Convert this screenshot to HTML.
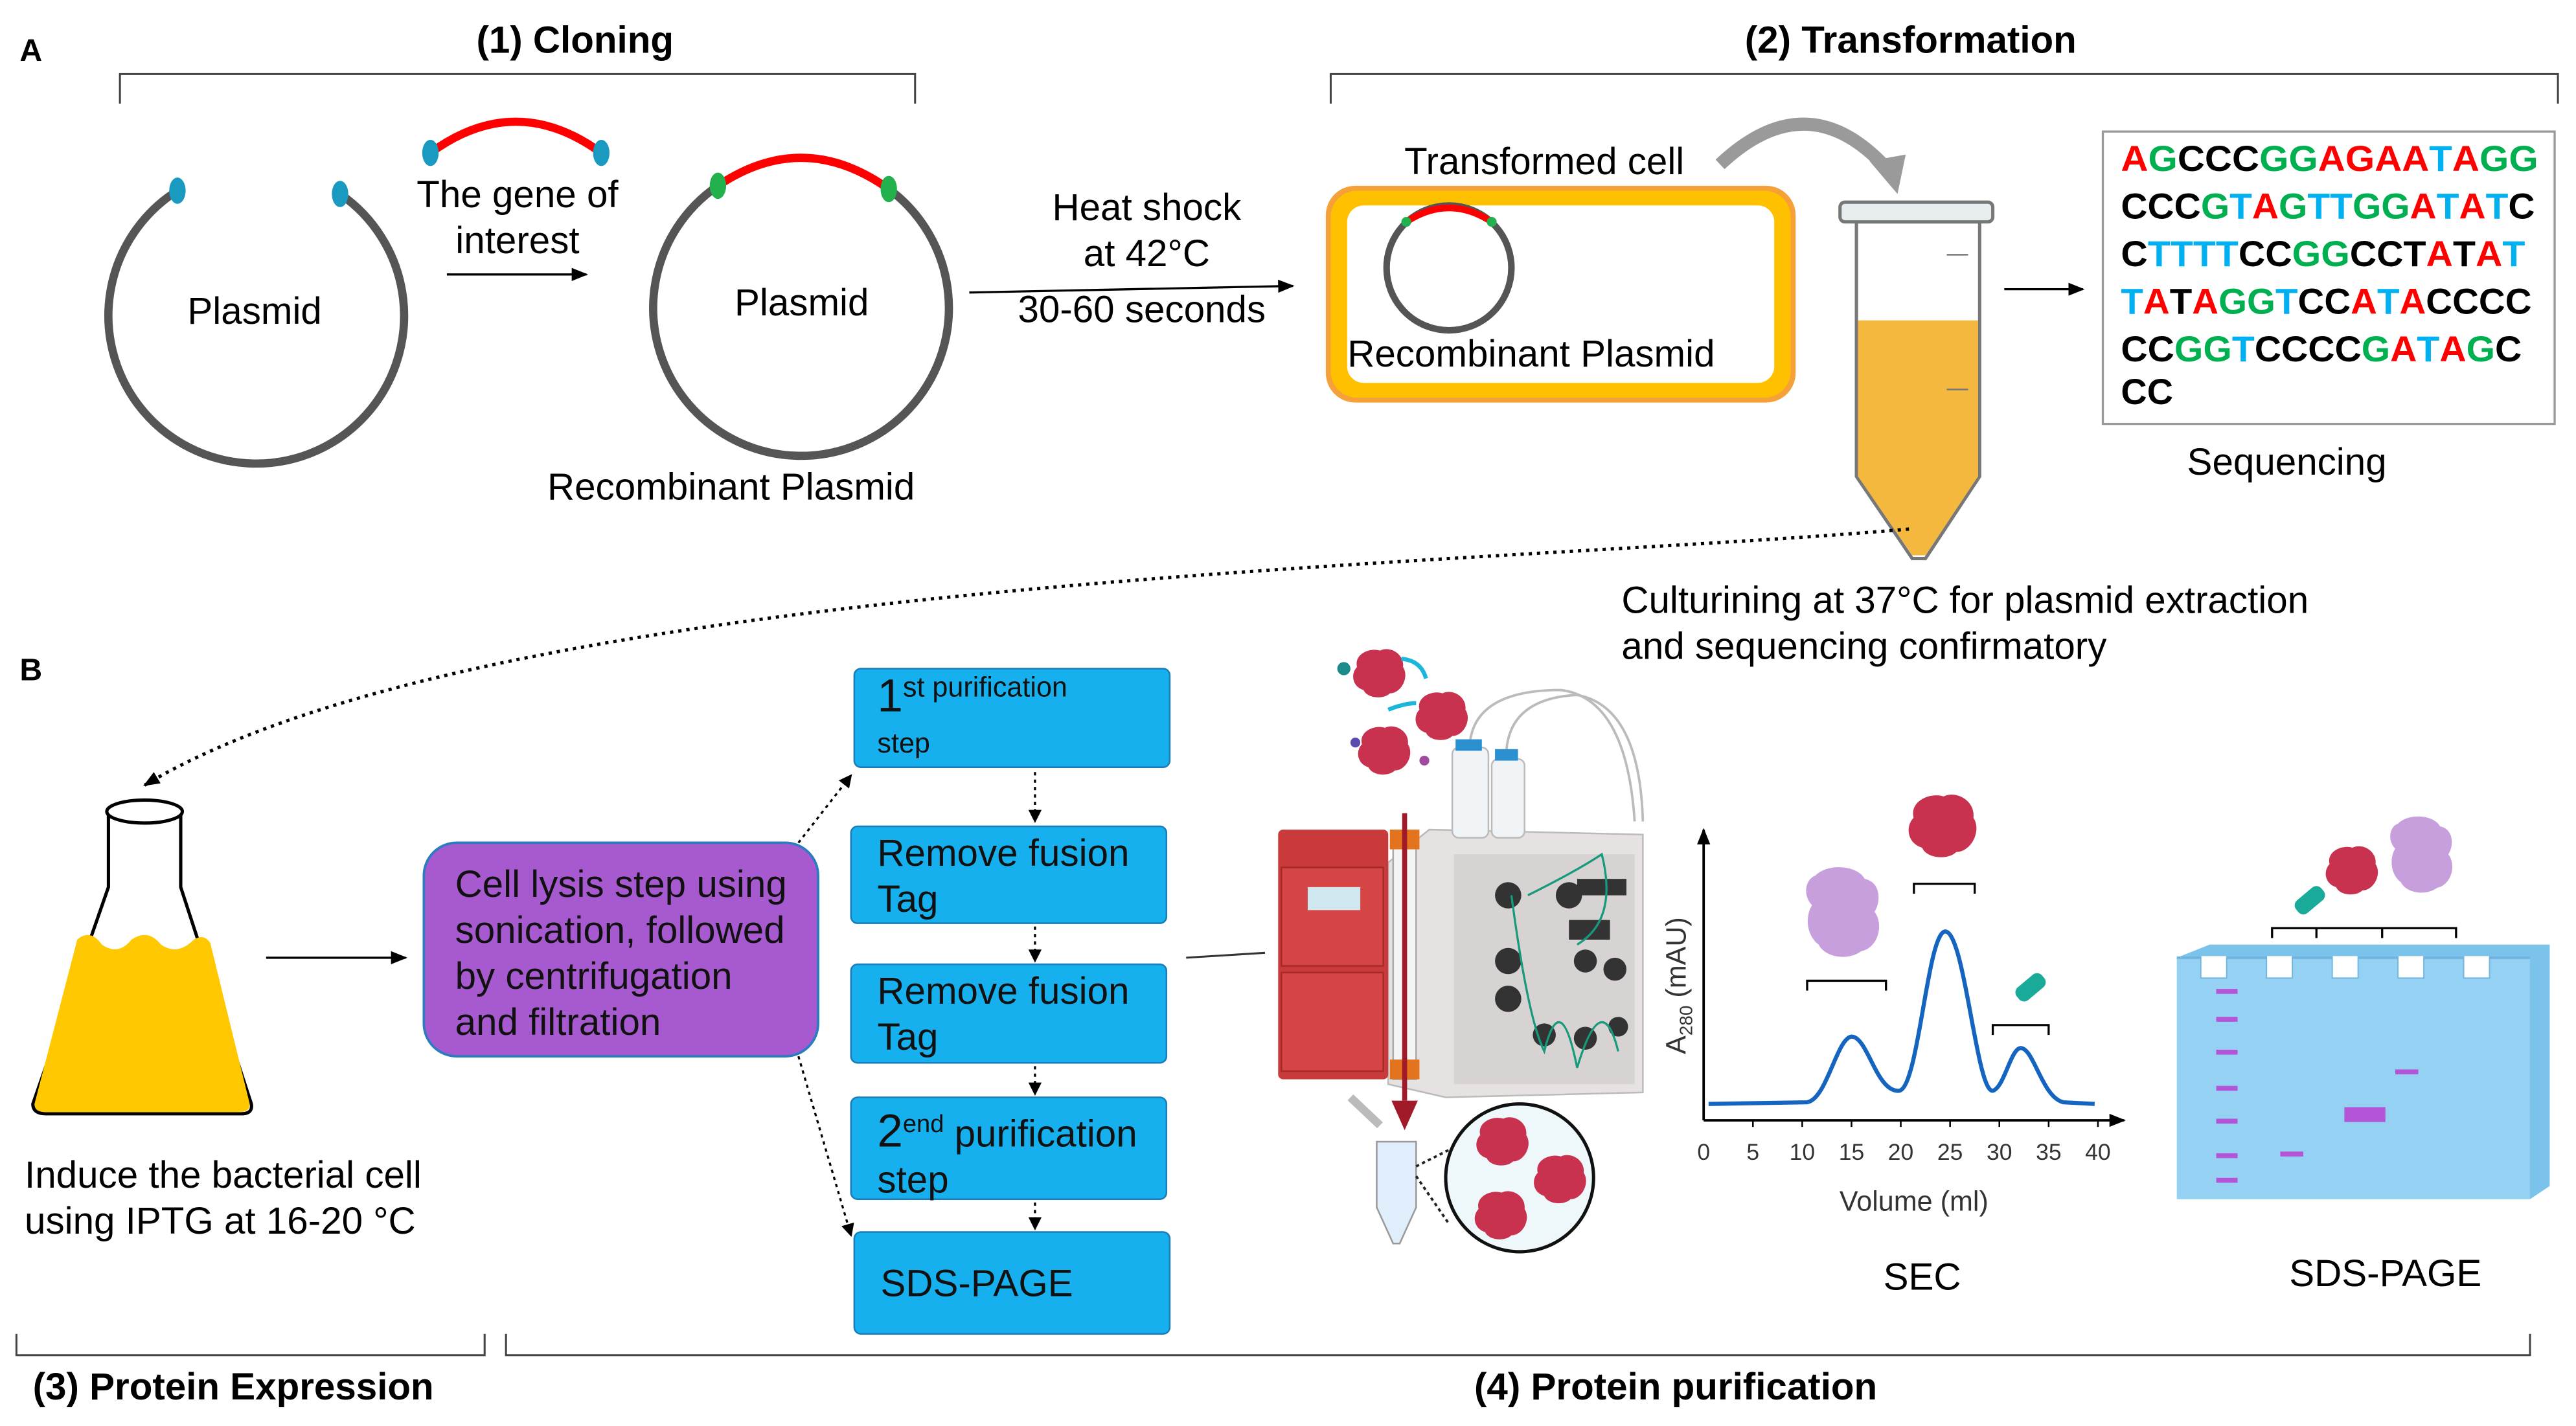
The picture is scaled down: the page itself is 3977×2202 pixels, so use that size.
<!DOCTYPE html>
<html><head><meta charset="utf-8"><style>
html,body{margin:0;padding:0;background:#fff;}
svg{display:block;}
text{font-family:"Liberation Sans",sans-serif;}
</style></head><body>
<svg width="3977" height="2202" viewBox="0 0 1568 868" xmlns="http://www.w3.org/2000/svg">
<defs>
<marker id="ah" markerWidth="10" markerHeight="10" refX="9" refY="5" orient="auto" markerUnits="userSpaceOnUse"><path d="M0,1 L10,5 L0,9 z" fill="#000"/></marker>
<marker id="ahs" markerWidth="8" markerHeight="8" refX="7" refY="4" orient="auto" markerUnits="userSpaceOnUse"><path d="M0,0 L8,4 L0,8 z" fill="#000"/></marker>
<g id="blob"><path d="M-14,-4 C-16,-12 -6,-16 0,-14 C6,-17 15,-12 14,-4 C18,2 13,12 6,12 C2,16 -8,15 -10,10 C-17,8 -18,0 -14,-4z" fill="#c8324f"/></g>
<g id="pblob"><path d="M-18,-22 C-10,-30 8,-28 12,-20 C22,-18 22,-6 18,0 C24,8 20,22 10,24 C2,30 -12,28 -16,20 C-24,14 -24,2 -20,-4 C-26,-10 -24,-20 -18,-22z" fill="#c79fdc"/></g>
</defs>
<rect width="1568" height="868" fill="#fff"/>

<text x="12" y="37" font-size="19" font-weight="bold">A</text>
<text x="12" y="414" font-size="19" font-weight="bold">B</text>

<path d="M73,63 V45 H557 V63" fill="none" stroke="#444" stroke-width="1.2"/>
<text x="350" y="32" font-size="23" font-weight="bold" text-anchor="middle">(1) Cloning</text>
<path d="M810,63 V45 H1557 V63" fill="none" stroke="#444" stroke-width="1.2"/>
<text x="1163" y="32" font-size="23" font-weight="bold" text-anchor="middle">(2) Transformation</text>

<path d="M207,118 A90,90 0 1 1 108,116" fill="none" stroke="#555" stroke-width="5"/>
<ellipse cx="108" cy="116" rx="5" ry="8" fill="#1a9ac0"/>
<ellipse cx="207" cy="118" rx="5" ry="8" fill="#1a9ac0"/>
<text x="155" y="197" font-size="23" text-anchor="middle">Plasmid</text>

<path d="M262,93 Q314,55 366,93" fill="none" stroke="#f00" stroke-width="5"/>
<ellipse cx="262" cy="93" rx="5" ry="8" fill="#1a9ac0"/>
<ellipse cx="366" cy="93" rx="5" ry="8" fill="#1a9ac0"/>
<text x="315" y="126" font-size="23" text-anchor="middle">The gene of</text>
<text x="315" y="154" font-size="23" text-anchor="middle">interest</text>
<line x1="272" y1="167" x2="357" y2="167" stroke="#000" stroke-width="1.3" marker-end="url(#ah)"/>

<path d="M541,115 A90,90 0 1 1 437,113" fill="none" stroke="#555" stroke-width="5"/>
<path d="M437,113 Q489,78 541,115" fill="none" stroke="#f00" stroke-width="5"/>
<ellipse cx="437" cy="113" rx="5" ry="8" fill="#22b14c"/>
<ellipse cx="541" cy="115" rx="5" ry="8" fill="#22b14c"/>
<text x="488" y="192" font-size="23" text-anchor="middle">Plasmid</text>
<text x="445" y="304" font-size="23" text-anchor="middle">Recombinant Plasmid</text>

<text x="698" y="134" font-size="23" text-anchor="middle">Heat shock</text>
<text x="698" y="162" font-size="23" text-anchor="middle">at  42°C</text>
<text x="695" y="196" font-size="23" text-anchor="middle">30-60 seconds</text>
<line x1="590" y1="178" x2="787" y2="174" stroke="#000" stroke-width="1.3" marker-end="url(#ah)"/>

<rect x="807" y="113" width="286" height="132" rx="18" fill="#f6a03a"/>
<rect x="810" y="116" width="280" height="126" rx="16" fill="#ffc000"/>
<rect x="820" y="125" width="260" height="108" rx="10" fill="#fff"/>
<text x="940" y="106" font-size="23" text-anchor="middle">Transformed cell</text>
<circle cx="882" cy="163" r="38" fill="none" stroke="#555" stroke-width="4"/>
<path d="M856,135 Q882,118 908,135" fill="none" stroke="#f00" stroke-width="4"/>
<circle cx="856" cy="135" r="3" fill="#22b14c"/><circle cx="908" cy="135" r="3" fill="#22b14c"/>
<text x="932" y="223" font-size="23" text-anchor="middle">Recombinant Plasmid</text>

<path d="M1047,100 Q1100,50 1148,102" fill="none" stroke="#9a9a9a" stroke-width="8"/>
<path d="M1138,98 L1160,94 L1155,118 z" fill="#9a9a9a"/>

<path d="M1130,135 H1205 V290 L1172,340 H1164 L1130,290 z" fill="#fff" stroke="#777" stroke-width="2"/>
<path d="M1131,195 H1204 V290 L1172,338 H1164 L1131,290 z" fill="#f5b83e"/>
<rect x="1120" y="123" width="93" height="12" rx="3" fill="#e8eef0" stroke="#777" stroke-width="2"/>
<line x1="1185" y1="155" x2="1198" y2="155" stroke="#777"/><line x1="1185" y1="237" x2="1198" y2="237" stroke="#777"/>
<line x1="1220" y1="176" x2="1268" y2="176" stroke="#000" stroke-width="1.3" marker-end="url(#ah)"/>

<rect x="1280" y="80" width="275" height="178" fill="#fff" stroke="#999" stroke-width="1.3"/>
<g font-size="22" font-weight="bold">
<text x="1291" y="104" textLength="254" lengthAdjust="spacingAndGlyphs"><tspan fill="#f00">A</tspan><tspan fill="#00b050">G</tspan><tspan fill="#000">CCC</tspan><tspan fill="#00b050">GG</tspan><tspan fill="#f00">AGAA</tspan><tspan fill="#00b0f0">T</tspan><tspan fill="#f00">A</tspan><tspan fill="#00b050">GG</tspan></text>
<text x="1291" y="133" textLength="252" lengthAdjust="spacingAndGlyphs"><tspan fill="#000">CCC</tspan><tspan fill="#00b050">G</tspan><tspan fill="#00b0f0">T</tspan><tspan fill="#f00">A</tspan><tspan fill="#00b050">G</tspan><tspan fill="#00b0f0">TT</tspan><tspan fill="#00b050">GG</tspan><tspan fill="#f00">A</tspan><tspan fill="#00b0f0">T</tspan><tspan fill="#f00">A</tspan><tspan fill="#00b0f0">T</tspan><tspan fill="#000">C</tspan></text>
<text x="1291" y="162" textLength="246" lengthAdjust="spacingAndGlyphs"><tspan fill="#000">C</tspan><tspan fill="#00b0f0">TTTT</tspan><tspan fill="#000">CC</tspan><tspan fill="#00b050">GG</tspan><tspan fill="#000">CCT</tspan><tspan fill="#f00">A</tspan><tspan fill="#000">T</tspan><tspan fill="#f00">A</tspan><tspan fill="#00b0f0">T</tspan></text>
<text x="1291" y="191" textLength="250" lengthAdjust="spacingAndGlyphs"><tspan fill="#00b0f0">T</tspan><tspan fill="#f00">A</tspan><tspan fill="#000">T</tspan><tspan fill="#f00">A</tspan><tspan fill="#00b050">GG</tspan><tspan fill="#00b0f0">T</tspan><tspan fill="#000">CC</tspan><tspan fill="#f00">A</tspan><tspan fill="#00b0f0">T</tspan><tspan fill="#f00">A</tspan><tspan fill="#000">CCCC</tspan></text>
<text x="1291" y="220" textLength="244" lengthAdjust="spacingAndGlyphs"><tspan fill="#000">CC</tspan><tspan fill="#00b050">GG</tspan><tspan fill="#00b0f0">T</tspan><tspan fill="#000">CCCC</tspan><tspan fill="#00b050">G</tspan><tspan fill="#f00">A</tspan><tspan fill="#00b0f0">T</tspan><tspan fill="#f00">A</tspan><tspan fill="#00b050">G</tspan><tspan fill="#000">C</tspan></text>
<text x="1291" y="246" fill="#000">CC</text>
</g>
<text x="1392" y="289" font-size="23" text-anchor="middle">Sequencing</text>

<text x="987" y="373" font-size="23">Culturining at 37°C for plasmid extraction</text>
<text x="987" y="401" font-size="23">and sequencing confirmatory</text>

<path d="M1162,322 C900,345 300,350 88,478" fill="none" stroke="#000" stroke-width="2" stroke-dasharray="2,3" marker-end="url(#ah)"/>

<path d="M66,495 V540 L20,672 Q20,678 28,678 H147 Q154,678 153,672 L110,540 V495" fill="#fff" stroke="#000" stroke-width="2"/>
<path d="M47,572 Q55,565 62,575 Q72,582 80,572 Q90,565 98,575 Q108,582 118,572 Q124,568 128,574 L152,672 Q152,677 146,677 H28 Q21,677 21,672 z" fill="#ffc800"/>
<ellipse cx="88" cy="494" rx="23" ry="7" fill="#fff" stroke="#000" stroke-width="2"/>
<text x="15" y="723" font-size="23">Induce the bacterial cell</text>
<text x="15" y="751" font-size="23">using IPTG at 16-20 °C</text>
<line x1="162" y1="583" x2="247" y2="583" stroke="#000" stroke-width="1.3" marker-end="url(#ah)"/>

<rect x="258" y="513" width="240" height="130" rx="20" fill="#a75ad0" stroke="#2b7bc0" stroke-width="1.5"/>
<g font-size="23" fill="#111">
<text x="277" y="546">Cell lysis step using</text>
<text x="277" y="574">sonication, followed</text>
<text x="277" y="602">by centrifugation</text>
<text x="277" y="630">and filtration</text>
</g>
<line x1="486" y1="513" x2="518" y2="472" stroke="#000" stroke-width="1.3" stroke-dasharray="2,2.5" marker-end="url(#ahs)"/>
<line x1="486" y1="643" x2="518" y2="752" stroke="#000" stroke-width="1.3" stroke-dasharray="2,2.5" marker-end="url(#ahs)"/>

<g fill="#17b0ee" stroke="#1a7cb8" stroke-width="1">
<rect x="520" y="407" width="192" height="60" rx="4"/>
<rect x="518" y="503" width="192" height="59" rx="4"/>
<rect x="518" y="587" width="192" height="60" rx="4"/>
<rect x="518" y="668" width="192" height="62" rx="4"/>
<rect x="520" y="750" width="192" height="62" rx="4"/>
</g>
<g font-size="23" fill="#111">
<text x="534" y="433"><tspan font-size="28">1</tspan><tspan font-size="17" dy="-9">st purification</tspan></text>
<text x="534" y="458" font-size="17">step</text>
<text x="534" y="527">Remove fusion</text>
<text x="534" y="555">Tag</text>
<text x="534" y="611">Remove fusion</text>
<text x="534" y="639">Tag</text>
<text x="534" y="698"><tspan font-size="28">2</tspan><tspan font-size="15" dy="-9">end</tspan><tspan dy="9"> purification</tspan></text>
<text x="534" y="726">step</text>
<text x="536" y="789">SDS-PAGE</text>
</g>
<g stroke="#000" stroke-width="1.3" stroke-dasharray="2,2.5" fill="none">
<line x1="630" y1="470" x2="630" y2="500" marker-end="url(#ahs)"/>
<line x1="630" y1="564" x2="630" y2="585" marker-end="url(#ahs)"/>
<line x1="630" y1="649" x2="630" y2="666" marker-end="url(#ahs)"/>
<line x1="630" y1="732" x2="630" y2="748" marker-end="url(#ahs)"/>
</g>
<line x1="722" y1="583" x2="770" y2="580" stroke="#333" stroke-width="1.2"/>

<path d="M845,525 L870,505 L1000,508 L1000,665 L880,668 L845,660 z" fill="#e7e2e2" stroke="#bbb"/>
<rect x="885" y="520" width="110" height="140" fill="#d8d3d3"/>
<rect x="778" y="505" width="67" height="152" rx="3" fill="#c93a3a"/>
<rect x="780" y="528" width="62" height="60" fill="#d64545" stroke="#a82a2a"/>
<rect x="780" y="592" width="62" height="60" fill="#d64545" stroke="#a82a2a"/>
<rect x="796" y="540" width="32" height="14" fill="#cfe8ef"/>
<rect x="848" y="507" width="14" height="150" fill="#f4f4f4" stroke="#aaa"/>
<rect x="846" y="505" width="18" height="12" fill="#e4731d"/>
<rect x="846" y="645" width="18" height="12" fill="#e4731d"/>
<rect x="884" y="455" width="22" height="55" rx="4" fill="#f1f4f6" stroke="#bbb"/>
<rect x="908" y="462" width="20" height="48" rx="4" fill="#f1f4f6" stroke="#bbb"/>
<rect x="886" y="450" width="16" height="7" fill="#2b90d0"/><rect x="910" y="456" width="14" height="7" fill="#2b90d0"/>
<path d="M895,450 Q900,420 950,420 Q990,425 995,500 M917,456 Q920,425 960,423 Q998,430 1000,500" fill="none" stroke="#bbb" stroke-width="1.5"/>
<g fill="#333">
<circle cx="918" cy="545" r="8"/><circle cx="955" cy="545" r="8"/><circle cx="918" cy="585" r="8"/><circle cx="918" cy="608" r="8"/>
<circle cx="965" cy="585" r="7"/><circle cx="983" cy="590" r="7"/><circle cx="940" cy="630" r="7"/><circle cx="965" cy="632" r="7"/><circle cx="985" cy="625" r="6"/>
<rect x="960" y="535" width="30" height="10"/><rect x="955" y="560" width="25" height="12"/>
</g>
<path d="M920,545 Q930,620 940,640 Q950,600 960,650 Q975,600 985,640 M930,545 Q960,530 975,520 Q985,560 960,575" fill="none" stroke="#179a7c" stroke-width="1.3"/>
<line x1="855" y1="495" x2="855" y2="670" stroke="#a01a2a" stroke-width="3"/>
<path d="M847,670 L863,670 L855,688 z" fill="#a01a2a"/>
<use href="#blob" x="840" y="410"/><use href="#blob" x="878" y="436"/><use href="#blob" x="843" y="457"/>
<circle cx="818" cy="407" r="4" fill="#1a8a8a"/><circle cx="825" cy="452" r="3" fill="#5a4ab0"/><circle cx="867" cy="463" r="3" fill="#a04aa0"/>
<path d="M853,401 Q865,402 868,413 M845,432 Q855,428 862,428" fill="none" stroke="#1ab6dc" stroke-width="2.5"/>
<path d="M838,695 H862 V735 L852,757 H848 L838,735 z" fill="#dfeefa" stroke="#999"/>
<path d="M822,668 L840,685" stroke="#bbb" stroke-width="5"/>
<circle cx="925" cy="717" r="45" fill="#eef8fb" stroke="#111" stroke-width="2"/>
<use href="#blob" x="915" y="695"/><use href="#blob" x="950" y="718"/><use href="#blob" x="914" y="740"/>
<path d="M862,710 L882,700 M862,716 L882,745" stroke="#222" stroke-width="1.5" stroke-dasharray="2,2"/>

<line x1="1037" y1="682" x2="1037" y2="505" stroke="#000" stroke-width="1.5" marker-end="url(#ah)"/>
<line x1="1037" y1="682" x2="1293" y2="682" stroke="#000" stroke-width="1.5" marker-end="url(#ah)"/>
<g font-size="14" text-anchor="middle" fill="#333">
<text x="1037" y="706">0</text><text x="1067" y="706">5</text><text x="1097" y="706">10</text><text x="1127" y="706">15</text><text x="1157" y="706">20</text><text x="1187" y="706">25</text><text x="1217" y="706">30</text><text x="1247" y="706">35</text><text x="1277" y="706">40</text>
</g>
<g stroke="#000"><line x1="1067" y1="682" x2="1067" y2="686"/><line x1="1097" y1="682" x2="1097" y2="686"/><line x1="1127" y1="682" x2="1127" y2="686"/><line x1="1157" y1="682" x2="1157" y2="686"/><line x1="1187" y1="682" x2="1187" y2="686"/><line x1="1217" y1="682" x2="1217" y2="686"/><line x1="1247" y1="682" x2="1247" y2="686"/><line x1="1277" y1="682" x2="1277" y2="686"/></g>
<text x="1165" y="737" font-size="17" text-anchor="middle" fill="#333">Volume (ml)</text>
<text transform="translate(1026,600) rotate(-90)" font-size="17" text-anchor="middle" fill="#333">A<tspan font-size="11" dy="4">280</tspan><tspan dy="-4"> (mAU)</tspan></text>
<path d="M1040,672 L1100,671 C1112,669 1118,632 1127,631 C1137,631 1142,665 1156,664 C1168,662 1173,568 1184,567 C1196,567 1203,665 1213,664 C1220,662 1224,638 1230,638 C1238,638 1243,668 1256,671 L1275,672" fill="none" stroke="#1565c0" stroke-width="2.5"/>
<use href="#pblob" x="1123" y="555"/>
<path d="M1100,603 V597 H1148 V603" fill="none" stroke="#000" stroke-width="1.3"/>
<use href="#blob" x="1183" y="503" transform="translate(1183,503) scale(1.3) translate(-1183,-503)"/>
<path d="M1165,544 V538 H1202 V544" fill="none" stroke="#000" stroke-width="1.3"/>
<rect x="1226" y="596" width="20" height="10" rx="4" fill="#1aaa9a" transform="rotate(-40 1236 601)"/>
<path d="M1213,630 V624 H1247 V630" fill="none" stroke="#000" stroke-width="1.3"/>
<text x="1170" y="785" font-size="23" text-anchor="middle">SEC</text>

<path d="M1325,583 L1345,575 H1552 L1552,722 L1540,730 z" fill="#7cc3ec"/>
<path d="M1325,583 H1540 V730 H1325 z" fill="#95d1f3"/>
<path d="M1325,583 H1340 V595 H1355 V583 H1380 V595 H1395 V583 H1420 V595 H1435 V583 H1460 V595 H1475 V583 H1500 V595 H1515 V583 H1540" fill="none" stroke="#6fb5e0" stroke-width="1.5"/>
<g fill="#fff"><rect x="1380" y="582" width="15" height="13"/><rect x="1420" y="582" width="15" height="13"/><rect x="1460" y="582" width="15" height="13"/><rect x="1500" y="582" width="15" height="13"/><rect x="1340" y="582" width="15" height="13"/></g>
<g fill="#b455d8">
<rect x="1349" y="602" width="13" height="3"/><rect x="1349" y="619" width="13" height="3"/><rect x="1349" y="639" width="13" height="3"/><rect x="1349" y="661" width="13" height="3"/><rect x="1349" y="681" width="13" height="3"/><rect x="1349" y="702" width="13" height="3"/><rect x="1349" y="717" width="13" height="3"/>
<rect x="1388" y="701" width="14" height="3"/><rect x="1427" y="674" width="25" height="9"/><rect x="1458" y="651" width="14" height="3"/>
</g>
<path d="M1383,571 V565 H1495 V571 M1410,565 V571 M1450,565 V571" fill="none" stroke="#000" stroke-width="1.3"/>
<rect x="1396" y="543" width="20" height="10" rx="4" fill="#1aaa9a" transform="rotate(-40 1406 548)"/>
<use href="#blob" x="1432" y="530"/>
<use href="#pblob" x="1475" y="520" transform="translate(1475,520) scale(0.85) translate(-1475,-520)"/>
<text x="1452" y="783" font-size="23" text-anchor="middle">SDS-PAGE</text>

<path d="M10,812 V825 H295 V812" fill="none" stroke="#444" stroke-width="1.2"/>
<text x="142" y="852" font-size="23" font-weight="bold" text-anchor="middle">(3) Protein Expression</text>
<path d="M308,812 V825 H1540 V812" fill="none" stroke="#444" stroke-width="1.2"/>
<text x="1020" y="852" font-size="23" font-weight="bold" text-anchor="middle">(4) Protein purification</text>
</svg>
</body></html>
